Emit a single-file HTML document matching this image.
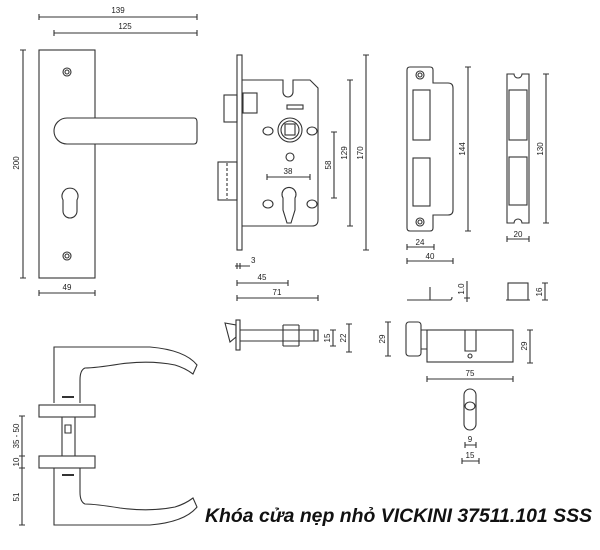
<!DOCTYPE html>
<html><head><meta charset="utf-8"><style>
html,body{margin:0;padding:0;background:#fff;width:600px;height:550px;overflow:hidden}
svg{display:block}
text{font-family:"Liberation Sans",sans-serif;font-size:8px;fill:#222}
</style></head><body>
<svg width="600" height="550" viewBox="0 0 600 550" xmlns="http://www.w3.org/2000/svg">
<g stroke="#333" stroke-width="1.1" fill="none">
<path d="M39 17H197M39 14V20M197 14V20M54 33H197M54 30V36M197 30V36"/>
<rect x="39" y="50" width="56" height="228"/>
<circle cx="67" cy="72" r="4"/><circle cx="67" cy="72" r="2"/>
<circle cx="67" cy="256" r="4"/><circle cx="67" cy="256" r="2"/>
<path d="M67 118H194Q197 118 197 122V140Q197 144 194 144H67A13 13 0 0 1 67 118Z" fill="#fff"/>
<path d="M63 211V200A8 8 0 1 1 77 200V211A7 7 0 0 1 63 211Z"/>
<path d="M23 50V278M20 50H26M20 278H26M39 293H95M39 290V296M95 290V296"/>
<rect x="237" y="55" width="5" height="195"/>
<path d="M242 80H283V92A5 5 0 0 0 293 92V80H310L318 88V220Q318 226 312 226H242"/>
<rect x="224" y="95" width="13" height="27"/>
<rect x="243" y="93" width="14" height="20"/>
<rect x="218" y="162" width="19" height="38"/>
<path d="M227 163V199" stroke-dasharray="3,2"/>
<circle cx="290" cy="130" r="12"/><circle cx="290" cy="130" r="9"/>
<rect x="285" y="124" width="10" height="11"/>
<ellipse cx="268" cy="131" rx="5" ry="4"/><ellipse cx="312" cy="131" rx="5" ry="4"/>
<circle cx="290" cy="157" r="4"/>
<rect x="287" y="105" width="16" height="4"/>
<path d="M283 210V198A7 7 0 1 1 295 198V210L291 223H287Z"/>
<ellipse cx="268" cy="204" rx="5" ry="4"/><ellipse cx="312" cy="204" rx="5" ry="4"/>
<path d="M267 177H310M267 174V180M310 174V180"/>
<path d="M334 132V198M331 132H337M331 198H337M350 80V226M347 80H353M347 226H353M366 55V250M363 55H369M363 250H369"/>
<path d="M235 266H250M237 263V269M240 263V269M237 283H288M237 280V286M288 280V286M237 298H318M237 295V301M318 295V301"/>
<path d="M410 67H430Q433 67 433 70V83H448Q453 83 453 88V210Q453 215 448 215H433V228Q433 231 430 231H410Q407 231 407 228V70Q407 67 410 67Z"/>
<rect x="413" y="90" width="17" height="50"/><rect x="413" y="158" width="17" height="48"/>
<circle cx="420" cy="75" r="4"/><circle cx="420" cy="75" r="2"/>
<circle cx="420" cy="222" r="4"/><circle cx="420" cy="222" r="2"/>
<path d="M468 67V231M465 67H471M465 231H471M407 247H434M407 244V250M434 244V250M407 261H453M407 258V264M453 258V264"/>
<path d="M507 74H514A4 4 0 0 0 522 74H529V223H522A4 4 0 0 0 514 223H507Z"/>
<rect x="509" y="90" width="18" height="50"/><rect x="509" y="157" width="18" height="48"/>
<path d="M546 74V223M543 74H549M543 223H549M507 239H529M507 236V242M529 236V242"/>
<path d="M407 300H450Q452 300 452 297M430 287V300"/>
<path d="M467 281V302M464 298H470"/>
<rect x="508" y="283" width="20" height="17"/><path d="M506 300H530M545 283V300M542 283H548M542 300H548"/>
<path d="M225 323L236 325V337L230 342Z"/><rect x="236" y="320" width="4" height="30"/>
<path d="M240 330H318V341H240M283 325V346M299 325V346M283 325H299M283 346H299M314 330V341"/>
<path d="M333 330V346M330 330H336M330 346H336M349 324V352M346 324H352M346 352H352"/>
<rect x="406" y="322" width="15" height="34" rx="3"/>
<path d="M421 330H427M421 349H427"/>
<rect x="427" y="330" width="86" height="32"/>
<path d="M465 330V351H476V330"/><circle cx="470" cy="356" r="2"/>
<path d="M388 322V356M385 322H391M385 356H391M530 330V363M527 330H533M527 363H533M427 379H513M427 376V382M513 376V382"/>
<path d="M464 395A6 6 0 0 1 476 395V424A6 6 0 0 1 464 424Z"/>
<ellipse cx="470" cy="406" rx="5" ry="4"/>
<path d="M465 445H476M465 442V448M476 442V448M462 461H479M462 458V464M479 458V464"/>
<path d="M54 403V347H150Q185 350 197 365L193 374Q185 368 175 365Q150 360 120 364Q95 368 85 368Q80 370 80 380V403"/>
<rect x="39" y="405" width="56" height="12"/>
<path d="M62 417V456M75 417V456M65 425H71V433H65Z"/>
<rect x="39" y="456" width="56" height="12"/>
<path d="M54 468V525H150Q185 522 197 507L193 498Q185 504 175 507Q150 512 120 508Q95 504 85 504Q80 502 80 492V468"/>
<path d="M22 416V525M19 416H25M19 456H25M19 468H25M19 525H25"/>
</g>
<g fill="#333"><rect x="62" y="396" width="12" height="2"/><rect x="62" y="474" width="12" height="2"/></g>
<text x="118" y="13" text-anchor="middle">139</text>
<text x="125" y="29" text-anchor="middle">125</text>
<text x="67" y="290" text-anchor="middle">49</text>
<text transform="translate(19,163) rotate(-90)" text-anchor="middle">200</text>
<text x="288" y="174" text-anchor="middle">38</text>
<text transform="translate(331,165) rotate(-90)" text-anchor="middle">58</text>
<text transform="translate(347,153) rotate(-90)" text-anchor="middle">129</text>
<text transform="translate(363,153) rotate(-90)" text-anchor="middle">170</text>
<text x="251" y="263">3</text>
<text x="262" y="280" text-anchor="middle">45</text>
<text x="277" y="295" text-anchor="middle">71</text>
<text transform="translate(465,149) rotate(-90)" text-anchor="middle">144</text>
<text transform="translate(543,149) rotate(-90)" text-anchor="middle">130</text>
<text x="420" y="245" text-anchor="middle">24</text>
<text x="430" y="259" text-anchor="middle">40</text>
<text x="518" y="237" text-anchor="middle">20</text>
<text transform="translate(464,289) rotate(-90)" text-anchor="middle">1.0</text>
<text transform="translate(542,292) rotate(-90)" text-anchor="middle">16</text>
<text transform="translate(330,338) rotate(-90)" text-anchor="middle">15</text>
<text transform="translate(346,338) rotate(-90)" text-anchor="middle">22</text>
<text transform="translate(385,339) rotate(-90)" text-anchor="middle">29</text>
<text transform="translate(527,346) rotate(-90)" text-anchor="middle">29</text>
<text x="470" y="376" text-anchor="middle">75</text>
<text x="470" y="442" text-anchor="middle">9</text>
<text x="470" y="458" text-anchor="middle">15</text>
<text transform="translate(19,436) rotate(-90)" text-anchor="middle">35 - 50</text>
<text transform="translate(19,462) rotate(-90)" text-anchor="middle">10</text>
<text transform="translate(19,497) rotate(-90)" text-anchor="middle">51</text>
<text x="205" y="522" textLength="387" lengthAdjust="spacingAndGlyphs" style="font-size:19px;font-weight:bold;font-style:italic;fill:#111">Khóa cửa nẹp nhỏ VICKINI 37511.101 SSS</text>
</svg>
</body></html>
